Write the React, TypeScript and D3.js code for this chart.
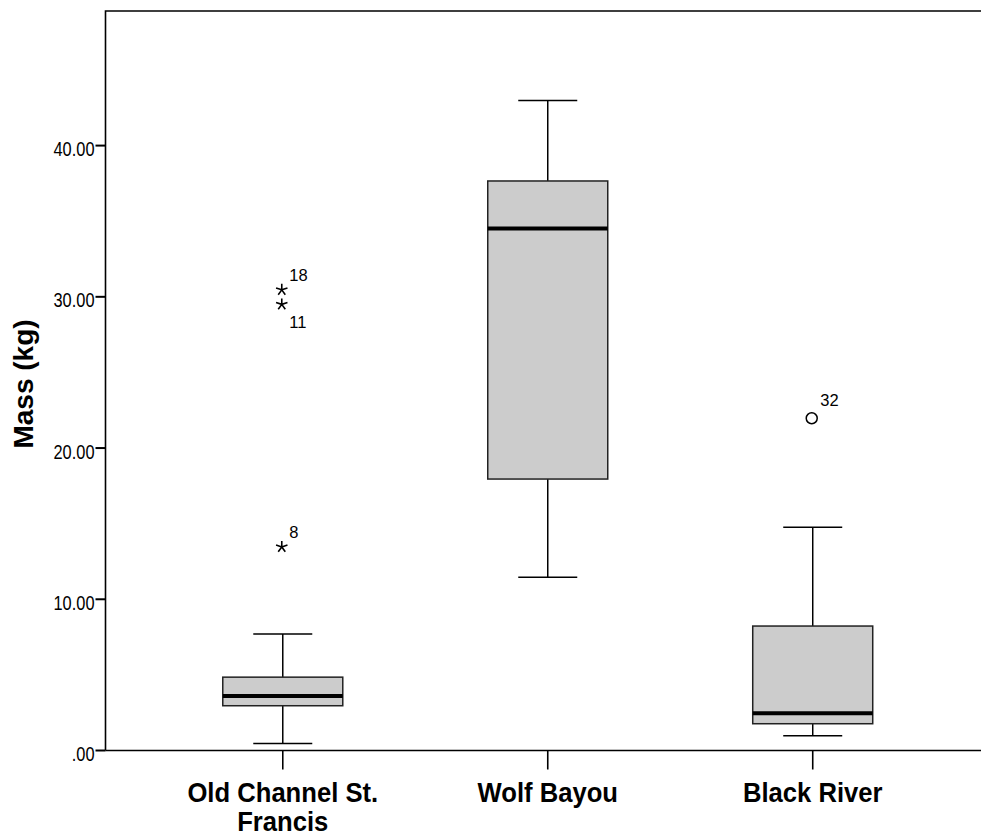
import React from "react";
import * as d3 from "d3";

// Box-plot summaries of fish mass per site
const sites = ["Old Channel St.|Francis", "Wolf Bayou", "Black River"];
const whiskerLow = [0.46, 11.46, 0.97];
const q1 = [2.96, 17.95, 1.77];
const median = [3.6, 34.52, 2.47];
const q3 = [4.85, 37.66, 8.23];
const whiskerHigh = [7.7, 42.98, 14.77];

// Outliers: site index, value, case label, kind (star = extreme, circle = outlier)
const outlierSite = [0, 0, 0, 2];
const outlierValue = [30.46, 29.5, 13.46, 21.97];
const outlierLabel = ["18", "11", "8", "32"];
const outlierKind = ["star", "star", "star", "circle"];
const outlierLabelPos = ["above", "below", "above", "above"];

const yTicks = [0, 10, 20, 30, 40];

const W = 981;
const H = 836;
const left = 105.5;
const right = 990;
const top = 11;
const bottom = 750.5;

function fmtTick(v: number) {
  const s = d3.format(".2f")(v);
  return s.startsWith("0") ? s.slice(1) : s;
}

function starPath(cx: number, cy: number, r: number) {
  let d = "";
  for (let k = 0; k < 5; k++) {
    const a = (-90 + k * 72) * (Math.PI / 180);
    d += `M${cx},${cy}L${cx + r * Math.cos(a)},${cy + r * Math.sin(a)}`;
  }
  return d;
}

export default function App() {
  const y = d3.scaleLinear().domain([0, 48.9]).range([bottom, top]);
  const x = d3
    .scaleBand<string>()
    .domain(sites)
    .range([left, right])
    .paddingOuter(0.169)
    .paddingInner(0);
  const bw = x.bandwidth();
  const boxW = 120;
  const capW = 59;
  const cx = (i: number) => (x(sites[i]) as number) + bw / 2;

  const font = "'Liberation Sans', Arial, sans-serif";

  return (
    <svg
      width={W}
      height={H}
      style={{ position: "absolute", left: 0, top: 0, background: "#fff" }}
    >
      {/* frame */}
      <path
        d={`M${left},${bottom}V${top}H${right}V${bottom}H${left}`}
        fill="none"
        stroke="#000"
        strokeWidth={1.6}
      />

      {/* y axis ticks and labels (narrow face) */}
      {yTicks.map((t) => (
        <g key={t}>
          <line x1={left - 10} x2={left} y1={y(t)} y2={y(t)} stroke="#000" strokeWidth={2} />
          <g transform={`translate(${left - 11},${y(t) + 10.5}) scale(0.82,1)`}>
            <text textAnchor="end" fontFamily={font} fontSize={20} fill="#000">
              {fmtTick(t)}
            </text>
          </g>
        </g>
      ))}

      <text
        transform={`translate(33.3,${384}) rotate(-90)`}
        textAnchor="middle"
        fontFamily={font}
        fontWeight="bold"
        fontSize={28}
        fill="#000"
      >
        Mass (kg)
      </text>

      {/* category ticks and labels */}
      {sites.map((s, i) => (
        <g key={s}>
          <line x1={cx(i)} x2={cx(i)} y1={bottom} y2={bottom + 19} stroke="#000" strokeWidth={1.6} />
          {s.split("|").map((line, j) => (
            <g key={j} transform={`translate(${cx(i)},${801.5 + j * 29}) scale(0.915,1)`}>
              <text
                textAnchor="middle"
                fontFamily={font}
                fontWeight="bold"
                fontSize={28}
                fill="#000"
              >
                {line}
              </text>
            </g>
          ))}
        </g>
      ))}

      {/* boxes */}
      {sites.map((s, i) => (
        <g key={"box" + s}>
          <line x1={cx(i)} x2={cx(i)} y1={y(whiskerHigh[i])} y2={y(q3[i])} stroke="#000" strokeWidth={1.5} />
          <line x1={cx(i)} x2={cx(i)} y1={y(q1[i])} y2={y(whiskerLow[i])} stroke="#000" strokeWidth={1.5} />
          <line x1={cx(i) - capW / 2} x2={cx(i) + capW / 2} y1={y(whiskerHigh[i])} y2={y(whiskerHigh[i])} stroke="#000" strokeWidth={1.5} />
          <line x1={cx(i) - capW / 2} x2={cx(i) + capW / 2} y1={y(whiskerLow[i])} y2={y(whiskerLow[i])} stroke="#000" strokeWidth={1.5} />
          <rect
            x={cx(i) - boxW / 2}
            y={y(q3[i])}
            width={boxW}
            height={y(q1[i]) - y(q3[i])}
            fill="#cccccc"
            stroke="#222"
            strokeWidth={1.5}
          />
          <line x1={cx(i) - boxW / 2} x2={cx(i) + boxW / 2} y1={y(median[i])} y2={y(median[i])} stroke="#000" strokeWidth={4} />
        </g>
      ))}

      {/* outliers */}
      {outlierValue.map((v, k) => {
        const px = cx(outlierSite[k]) - 1;
        const py = y(v);
        const isStar = outlierKind[k] === "star";
        const ly =
          outlierLabelPos[k] === "above" ? py - (isStar ? 9 : 12.5) : py + 24;
        return (
          <g key={"o" + k}>
            {isStar ? (
              <path d={starPath(px, py, 6)} stroke="#000" strokeWidth={1.6} fill="none" />
            ) : (
              <circle cx={px} cy={py} r={5.5} fill="none" stroke="#000" strokeWidth={1.5} />
            )}
            <text
              x={px + (isStar ? 7.5 : 8.5)}
              y={ly}
              fontFamily={font}
              fontSize={16.5}
              fill="#000"
            >
              {outlierLabel[k]}
            </text>
          </g>
        );
      })}
    </svg>
  );
}
